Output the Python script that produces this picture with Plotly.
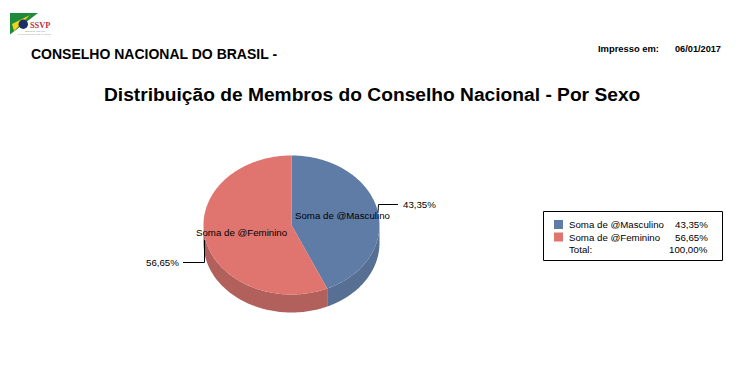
import numpy as np
import plotly.graph_objects as go

categories = ["Soma de @Masculino", "Soma de @Feminino"]
shares = [43.35, 56.65]
share_labels = ["43,35%", "56,65%"]
total_label = "100,00%"
top_colors = ["#5F7CA6", "#E0756F"]
side_colors = ["#566F92", "#B1605C"]

CX, CY, RX, RY, DEPTH = 291.5, 225.0, 88.0, 69.5, 18.0
FONT = "Liberation Sans"


def ell(t, dy=0.0):
    return CX + RX * np.sin(t), CY - RY * np.cos(t) + dy


fig = go.Figure()
edges = np.cumsum([0] + shares) / 100 * 2 * np.pi

# walls first (front half only: angle between 90 deg and 270 deg)
for i in range(2):
    a = max(edges[i], np.pi / 2)
    b = min(edges[i + 1], 3 * np.pi / 2)
    t = np.linspace(a, b, 120)
    x1, y1 = ell(t)
    x2, y2 = ell(t[::-1], DEPTH)
    fig.add_trace(go.Scatter(x=np.r_[x1, x2], y=np.r_[y1, y2], fill="toself", mode="none",
                             fillcolor=side_colors[i], hoverinfo="skip", showlegend=False))
# top faces
for i in range(2):
    t = np.linspace(edges[i], edges[i + 1], 240)
    x, y = ell(t)
    fig.add_trace(go.Scatter(x=np.r_[CX, x, CX], y=np.r_[CY, y, CY], fill="toself", mode="none",
                             fillcolor=top_colors[i], hoverinfo="skip", showlegend=False))

# leader lines
fig.add_trace(go.Scatter(x=[378, 378.5, 398], y=[212, 204.5, 204.5], mode="lines",
                         line=dict(color="black", width=1), hoverinfo="skip", showlegend=False))
fig.add_trace(go.Scatter(x=[204.5, 204.5, 183], y=[240, 262.5, 262.5], mode="lines",
                         line=dict(color="black", width=1), hoverinfo="skip", showlegend=False))


def text(x, y, s, size=9.7, anchor="left", bold=False, color="black", family=FONT):
    fig.add_annotation(x=x, y=y, text=f"<b>{s}</b>" if bold else s, showarrow=False, xanchor=anchor,
                       yanchor="middle", borderpad=0, borderwidth=0,
                       font=dict(size=size, color=color, family=family))


text(31, 53.5, "CONSELHO NACIONAL DO BRASIL -", 14, bold=True)
text(598, 48, "Impresso em:", 9.4, bold=True)
text(675, 48.5, "06/01/2017", 9.2, bold=True)
text(372, 94, "Distribuição de Membros do Conselho Nacional - Por Sexo", 19.2, "center", True)
text(294.5, 215.5, categories[0])
text(196, 232.5, categories[1])
text(403, 204, share_labels[0])
text(146, 262.5, share_labels[1])

# legend box
shapes = [dict(type="rect", xref="x", yref="y", x0=543.5, y0=211.5, x1=722.5, y1=260.5,
               line=dict(color="black", width=1), fillcolor="white", layer="below")]
for i, yy in enumerate([224.5, 237]):
    shapes.append(dict(type="rect", xref="x", yref="y", x0=554, x1=563, y0=yy - 4.5, y1=yy + 4.5,
                       fillcolor=top_colors[i], line=dict(width=0)))
    text(569, yy, categories[i])
    text(707.5, yy, share_labels[i], anchor="right")
text(569, 249.5, "Total:")
text(707.5, 249.5, total_label, anchor="right")

# logo
fig.add_trace(go.Scatter(x=[10, 38, 10, 10], y=[13, 13, 34.5, 13], fill="toself", mode="none",
                         fillcolor="#1E8A3C", hoverinfo="skip", showlegend=False))
fig.add_trace(go.Scatter(x=[12, 30, 14, 12], y=[24, 15, 31, 24], fill="toself", mode="none",
                         fillcolor="#F2D21B", hoverinfo="skip", showlegend=False))
shapes.append(dict(type="circle", xref="x", yref="y", x0=18.5, x1=28, y0=19.5, y1=29,
                   fillcolor="#1D2F66", line=dict(width=0)))
text(29.5, 25.5, "SSVP", 8.3, color="#B5333A", bold=True, family="Liberation Serif")
text(35, 31, "SOCIEDADE DE", 2.8, "center", color="#555555", family="Liberation Serif")
text(34, 34.5, "SÃO VICENTE DE PAULO", 2.8, "center", color="#555555", family="Liberation Serif")

fig.update_layout(width=738, height=374, margin=dict(l=0, r=0, t=0, b=0), paper_bgcolor="white",
                  plot_bgcolor="white", shapes=shapes, showlegend=False,
                  xaxis=dict(range=[0, 738], visible=False, fixedrange=True),
                  yaxis=dict(range=[374, 0], visible=False, fixedrange=True))
fig.write_html("out.html", config=dict(displayModeBar=False),
               post_script="document.body.style.margin='0';document.body.style.overflow='hidden';")
